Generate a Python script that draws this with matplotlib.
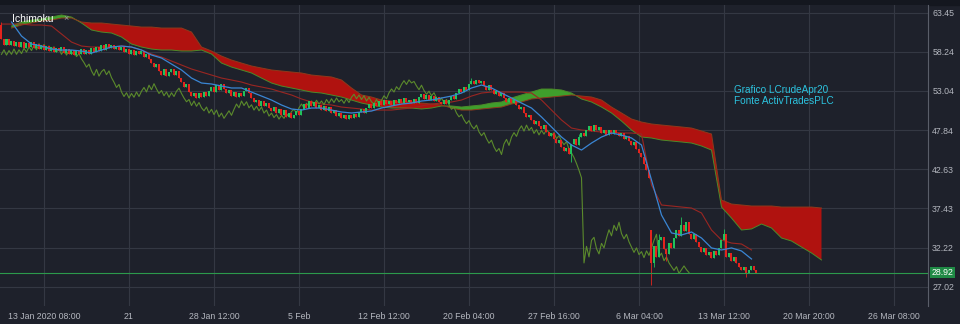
import numpy as np
import matplotlib
matplotlib.use("Agg")
import matplotlib.pyplot as plt
from matplotlib import transforms

plt.rcParams['font.family'] = ['Liberation Sans', 'DejaVu Sans']

# ==========================================
# Data (4h bars of LCrude Apr20)
# ==========================================
closes = [
    60.0, 59.2, 59.9, 59.1, 59.7, 59.0, 59.6, 58.9, 59.5, 58.8, 59.4, 58.9,
    59.5, 58.8, 59.3, 58.6, 59.2, 58.5, 59.0, 58.3, 58.9, 58.2, 58.8, 58.3,
    58.9, 58.1, 58.6, 57.9, 58.5, 57.8, 58.4, 57.9, 58.6, 57.9, 58.5, 58.0,
    58.7, 58.2, 58.9, 58.4, 59.1, 58.5, 59.3, 58.7, 59.2, 58.6, 59.0, 58.5,
    58.9, 58.2, 58.6, 57.9, 58.5, 57.8, 58.4, 57.9, 58.3, 57.6, 58.0, 57.3,
    56.8, 56.2, 56.6, 55.7, 55.1, 55.9, 55.0, 55.6, 55.9, 55.2, 55.7, 54.8,
    54.2, 53.5, 53.9, 52.9, 52.3, 52.8, 52.1, 52.7, 52.2, 52.9, 52.3, 53.0,
    53.5, 52.9, 53.8, 53.2, 54.0, 53.3, 52.7, 53.1, 52.4, 52.9, 52.2, 52.8,
    52.3, 53.0, 53.4, 52.7, 52.1, 51.6, 51.9, 51.1, 51.7, 51.0, 51.5, 50.8,
    50.4, 50.9, 50.1, 50.6, 49.9, 50.5, 49.6, 50.1, 49.4, 49.9, 50.4, 49.8,
    50.6, 51.3, 50.8, 51.7, 51.1, 51.6, 50.8, 51.2, 50.5, 51.0, 50.4, 50.9,
    50.1, 50.5, 49.7, 50.1, 49.5, 49.9, 49.3, 49.8, 49.4, 50.0, 49.6, 50.3,
    50.6, 50.1, 50.8, 51.3, 50.8, 51.4, 51.0, 51.7, 51.2, 51.8, 51.3, 51.7,
    51.2, 51.9, 51.4, 52.0, 51.5, 52.1, 51.6, 51.9, 51.4, 52.0, 51.5, 52.2,
    52.6, 52.0, 52.5, 51.9, 52.4, 51.7, 52.2, 51.6, 51.3, 51.9, 51.3, 51.8,
    52.4, 52.0, 52.8, 53.3, 52.9, 53.6, 53.2, 53.9, 54.4, 53.9, 54.5, 54.1,
    54.3, 53.7, 53.2, 53.8, 53.1, 52.6, 53.0, 52.4, 52.8, 52.1, 51.6, 52.1,
    51.5, 51.9, 51.2, 50.6, 50.9, 50.1, 49.6, 49.9, 49.2, 48.7, 49.1, 48.4,
    48.0, 48.5, 47.6, 47.1, 47.5, 46.7, 46.1, 46.5, 45.6, 45.0, 45.4, 44.6,
    46.0, 46.6, 45.8, 46.9, 47.5, 47.0, 47.9, 48.4, 47.7, 48.5, 47.8, 48.2,
    47.4, 47.9, 47.2, 47.8, 47.3, 47.9, 47.5, 47.1, 47.5, 46.7, 47.1, 46.4,
    45.9, 46.3, 45.3, 44.8, 44.2, 43.4, 42.5, 41.5,
    30.2, 32.4, 31.0, 33.2, 33.6, 32.1, 31.4, 32.8, 32.2, 33.5, 34.6, 33.8,
    35.2, 34.5, 35.6, 34.1, 33.4, 34.0, 33.0, 32.3, 31.6, 32.2, 31.3, 31.7,
    30.9, 31.8, 31.2, 32.2, 33.2, 34.0, 31.0, 31.5, 30.5, 31.0, 30.2, 29.7,
    29.2, 29.7, 28.8, 29.3, 29.8, 29.3, 28.92,
]
first_open = 61.8
gap_opens = {260: 34.6}                      # Monday 9 Mar gap down
high_wicks = {0: 62.2, 188: 54.7, 231: 47.3, 263: 34.1, 272: 36.3, 289: 34.7}
low_wicks = {228: 43.6, 260: 27.3, 261: 29.6, 266: 30.4, 298: 28.3}

# Ichimoku lines, one value every 4 bars
line_step = 4
tenkan = [
    62.19, 60.33, 59.27, 59.00, 58.60, 58.47, 58.47, 58.34, 58.07, 58.47,
    58.87, 59.00, 58.87, 58.47, 57.81, 57.41, 56.61, 55.82, 54.75, 54.09,
    53.96, 53.69, 53.43, 53.43, 52.89, 52.36, 51.83, 51.17, 50.64, 50.50,
    50.77, 50.77, 50.50, 50.24, 50.11, 50.24, 50.37, 50.77, 51.04, 51.30,
    51.43, 51.70, 51.83, 52.10, 52.36, 52.76, 53.43, 53.82, 53.43, 52.76,
    52.10, 51.43, 50.77, 49.58, 48.25, 46.92, 45.86, 45.19, 46.12, 46.92,
    47.45, 47.18, 46.79, 45.86, 41.21, 36.56, 34.18, 33.91, 34.31, 33.51,
    32.19, 31.92, 32.19, 31.79, 30.72,
]
tenkan_start = 4
kijun = [
    61.92, 61.92, 61.92, 61.79, 61.79, 61.66, 60.60, 59.53, 59.00, 58.87,
    58.87, 58.87, 59.00, 58.87, 58.47, 57.94, 57.54, 57.01, 56.48, 55.95,
    55.55, 55.15, 54.75, 54.49, 54.22, 53.82, 53.56, 53.29, 52.89, 52.50,
    51.97, 51.57, 51.30, 51.17, 50.90, 50.77, 50.64, 50.50, 50.50, 50.50,
    50.64, 50.77, 51.04, 51.30, 51.43, 51.57, 51.83, 52.36, 52.76, 52.89,
    52.89, 52.89, 52.89, 52.76, 51.83, 50.50, 49.18, 48.11, 47.85, 47.72,
    47.58, 47.58, 47.45, 47.45, 47.32, 40.55, 37.89, 37.76, 37.62, 37.49,
    36.83, 34.57, 33.24, 32.84, 32.71, 31.92,
]
kijun_start = 0
senkou_a = [
    61.66, 62.19, 62.45, 62.59, 62.85, 63.12, 62.85, 62.06, 61.13, 60.86,
    60.73, 60.20, 59.27, 58.87, 58.60, 58.47, 58.47, 58.34, 58.34, 58.47,
    57.94, 56.74, 56.21, 55.82, 55.42, 54.75, 54.09, 53.69, 53.43, 53.16,
    52.89, 52.76, 52.50, 52.23, 51.83, 51.43, 51.17, 50.90, 50.77, 50.77,
    50.77, 50.64, 50.77, 51.04, 51.04, 50.90, 51.04, 51.17, 51.43, 51.57,
    52.10, 52.50, 52.89, 53.29, 53.29, 53.16, 52.76, 51.97, 51.57, 50.90,
    50.11, 49.04, 47.85, 46.92, 46.79, 46.52, 46.39, 46.26, 46.12, 45.73,
    45.19, 37.62, 36.16, 34.57, 34.71, 35.37, 34.84, 33.51, 33.11, 32.31,
    31.52, 30.59,
]
senkou_b = [
    61.39, 61.79, 62.06, 62.32, 62.45, 62.72, 62.72, 62.19, 62.06, 62.06,
    61.92, 61.79, 61.66, 61.52, 61.52, 61.39, 61.39, 61.39, 60.86, 58.87,
    58.34, 57.67, 57.14, 56.74, 56.35, 56.08, 55.82, 55.68, 55.55, 55.42,
    55.15, 55.02, 54.89, 54.49, 53.43, 52.50, 52.23, 51.83, 51.70, 51.57,
    51.57, 51.43, 51.30, 51.17, 50.77, 50.50, 50.50, 50.64, 50.77, 50.90,
    51.30, 51.57, 51.97, 52.10, 52.23, 52.36, 52.50, 52.36, 52.23, 51.83,
    50.90, 50.11, 49.31, 48.91, 48.65, 48.51, 48.38, 48.25, 48.11, 47.72,
    47.32, 38.55, 38.02, 37.89, 37.76, 37.76, 37.76, 37.62, 37.62, 37.62,
    37.62, 37.49,
]
cloud_start = 4
chikou_shift = 27

last_price = 28.92
price_ticks = [27.02, 32.22, 37.43, 42.63, 47.84, 53.04, 58.24, 63.45]
time_tick_bars = [17, 51, 85, 119, 153, 187, 221, 255, 289, 323, 357]
time_tick_labels = ["13 Jan 2020 08:00", "21", "28 Jan 12:00", "5 Feb",
                    "12 Feb 12:00", "20 Feb 04:00", "27 Feb 16:00",
                    "6 Mar 04:00", "13 Mar 12:00", "20 Mar 20:00",
                    "26 Mar 08:00"]

# ==========================================
# Colours
# ==========================================
BG = "#1e212b"
GRID = "#343843"
TEXT = "#b4b7bf"
UP = "#21c25a"
DOWN = "#e3241d"
CLOUD_RED = "#b0120f"
CLOUD_GREEN = "#3f9f2c"


def draw_candles(ax):
    n = len(closes)
    x = np.arange(n)
    c = np.array(closes)
    o = np.empty(n)
    o[0] = first_open
    o[1:] = c[:-1]
    for i, v in gap_opens.items():
        o[i] = v
    hi = np.maximum(o, c)
    lo = np.minimum(o, c)
    for i, v in high_wicks.items():
        hi[i] = v
    for i, v in low_wicks.items():
        lo[i] = v
    up = c >= o
    colors = np.where(up, UP, DOWN)
    ax.vlines(x, lo, hi, colors=colors, linewidth=0.6, zorder=4)
    body = np.where(np.abs(c - o) < 0.08, 0.08, c - o)
    ax.bar(x, body, bottom=o, width=0.8, color=colors, linewidth=0, zorder=5)


def draw_ichimoku(ax):
    a = np.array(senkou_a)
    b = np.array(senkou_b)
    xc = cloud_start + line_step * np.arange(len(a))
    ax.fill_between(xc, a, b, where=a >= b, interpolate=True,
                    color=CLOUD_GREEN, linewidth=0, zorder=2)
    ax.fill_between(xc, a, b, where=a < b, interpolate=True,
                    color=CLOUD_RED, linewidth=0, zorder=2)
    ax.plot(xc, a, color="#4c8a2a", lw=0.7, zorder=2.5)
    ax.plot(xc, b, color="#8c3a1c", lw=0.7, zorder=2.5)

    xt = tenkan_start + line_step * np.arange(len(tenkan))
    ax.plot(xt, tenkan, color="#3a86d4", lw=0.9, zorder=6)
    xk = kijun_start + line_step * np.arange(len(kijun))
    ax.plot(xk, kijun, color="#9a2622", lw=0.8, zorder=3)

    # lagging span = closes pushed back
    xs = np.arange(len(closes))[chikou_shift:] - chikou_shift
    ax.plot(xs, closes[chikou_shift:], color="#5b8a2c", lw=0.8, zorder=3)


def main():
    assert len(closes) == 303

    fig = plt.figure(figsize=(9.6, 3.24), dpi=100)
    fig.patch.set_facecolor(BG)
    fig.add_artist(plt.Rectangle((0, 1 - 5 / 324), 1, 5 / 324,
                                 transform=fig.transFigure, color="#14171f", zorder=0))

    ax = fig.add_axes([0, 1 - 306 / 324, 928 / 960, 301 / 324])
    ax.set_facecolor(BG)

    draw_ichimoku(ax)
    draw_candles(ax)

    ax.axhline(last_price, color="#2c9a4c", lw=0.8, zorder=7)

    ax.set_xlim(-0.6, 370.6)
    ax.set_ylim(24.48, 64.45)

    ax.yaxis.tick_right()
    ax.set_yticks(price_ticks)
    ax.set_yticklabels([f"{v:.2f}" for v in price_ticks])
    ax.set_xticks(time_tick_bars)
    ax.set_xticklabels(time_tick_labels)
    ax.tick_params(axis="both", length=0, colors=TEXT, labelsize=6.3)
    ax.tick_params(axis="y", pad=3)
    ax.tick_params(axis="x", pad=4.5)
    ax.grid(True, color=GRID, lw=0.8, zorder=0)
    ax.set_axisbelow(True)
    for side in ["top", "left", "bottom"]:
        ax.spines[side].set_visible(False)
    ax.spines["right"].set_color("#5a5e69")
    ax.spines["right"].set_linewidth(0.8)

    # last price tag on the axis
    tr = transforms.blended_transform_factory(ax.transAxes, ax.transData)
    ax.text(1.004, last_price, f"{last_price:.2f}", transform=tr,
            color="white", fontsize=6.3, va="center", ha="left", zorder=10,
            bbox=dict(boxstyle="square,pad=0.15", fc="#1f8a45", ec="none"),
            clip_on=False)

    # legend / watermark texts
    ax.text(0.013, 0.955, "Ichimoku", transform=ax.transAxes, color="white",
            fontsize=7.5, va="center", ha="left", zorder=10)
    ax.text(0.068, 0.955, "\u00d7", transform=ax.transAxes, color="#9a9da6",
            fontsize=6.5, va="center", ha="left", zorder=10)
    ax.text(0.791, 0.70, "Grafico LCrudeApr20\nFonte ActivTradesPLC",
            transform=ax.transAxes, color="#2cc3df", fontsize=7.2,
            va="center", ha="left", linespacing=1.15, zorder=10)

    fig.savefig("out.png", dpi=100, facecolor=BG)


if __name__ == "__main__":
    main()
